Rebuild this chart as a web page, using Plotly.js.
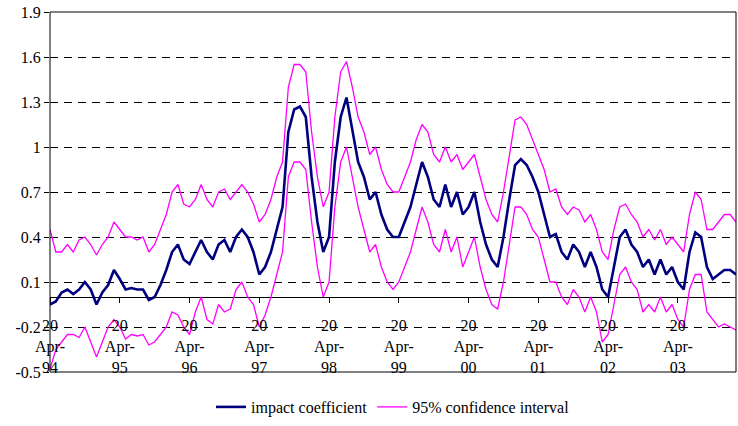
<!DOCTYPE html>
<html>
<head>
<meta charset="utf-8">
<script src="https://cdn.plot.ly/plotly-3.0.1.min.js"></script>
<style>body{margin:0;background:#fff}#chart{width:738px;height:426px}</style>
</head>
<body>
<div id="chart"></div>
<script>
// months since 20-Apr-94
var months = [];
for (var m = 0; m <= 118; m++) months.push(m);

var impact = [-0.05,-0.03,0.03,0.05,0.02,0.05,0.1,0.05,-0.05,0.03,0.08,0.18,
  0.12,0.05,0.06,0.05,0.05,-0.02,0.0,0.08,0.18,0.3,0.35,0.25,
  0.22,0.3,0.38,0.3,0.25,0.35,0.38,0.3,0.4,0.45,0.4,0.3,
  0.15,0.2,0.3,0.45,0.6,1.1,1.25,1.27,1.2,0.8,0.5,0.3,
  0.4,0.9,1.2,1.33,1.1,0.9,0.8,0.65,0.7,0.55,0.45,0.4,
  0.4,0.5,0.6,0.75,0.9,0.8,0.65,0.6,0.75,0.6,0.7,0.55,
  0.6,0.7,0.5,0.35,0.25,0.2,0.4,0.65,0.88,0.92,0.88,0.8,
  0.7,0.55,0.4,0.42,0.3,0.25,0.35,0.3,0.2,0.3,0.2,0.05,
  0.0,0.2,0.4,0.45,0.35,0.3,0.2,0.25,0.15,0.25,0.15,0.2,
  0.1,0.05,0.3,0.43,0.4,0.2,0.12,0.15,0.18,0.18,0.15];
var upper = [0.45,0.3,0.3,0.35,0.3,0.38,0.4,0.35,0.28,0.35,0.4,0.5,
  0.45,0.4,0.4,0.38,0.4,0.3,0.35,0.45,0.55,0.7,0.75,0.62,
  0.6,0.65,0.75,0.65,0.6,0.7,0.72,0.65,0.7,0.75,0.7,0.62,
  0.5,0.55,0.65,0.8,0.9,1.4,1.55,1.55,1.5,1.1,0.8,0.6,
  0.7,1.2,1.5,1.57,1.4,1.2,1.1,0.95,1.0,0.85,0.75,0.7,
  0.7,0.8,0.9,1.05,1.15,1.1,0.95,0.9,1.0,0.9,0.95,0.85,
  0.9,0.95,0.8,0.65,0.55,0.5,0.7,0.95,1.18,1.2,1.15,1.05,
  0.95,0.85,0.7,0.72,0.6,0.55,0.6,0.58,0.5,0.55,0.45,0.3,
  0.25,0.45,0.6,0.62,0.55,0.5,0.4,0.45,0.38,0.45,0.35,0.4,
  0.35,0.3,0.55,0.7,0.65,0.45,0.45,0.5,0.55,0.55,0.5];
var lower = [-0.48,-0.35,-0.3,-0.25,-0.25,-0.27,-0.2,-0.3,-0.4,-0.3,-0.2,-0.15,
  -0.2,-0.28,-0.25,-0.26,-0.25,-0.32,-0.3,-0.25,-0.2,-0.1,-0.12,-0.2,
  -0.25,-0.1,0.0,-0.15,-0.18,-0.05,-0.1,-0.08,0.05,0.1,0.0,-0.05,
  -0.2,-0.12,0.0,0.15,0.3,0.8,0.9,0.9,0.85,0.5,0.2,0.0,
  0.1,0.6,0.9,1.0,0.8,0.6,0.45,0.3,0.35,0.2,0.1,0.05,
  0.1,0.2,0.3,0.45,0.6,0.5,0.35,0.3,0.45,0.3,0.4,0.2,
  0.3,0.4,0.2,0.05,-0.05,-0.08,0.1,0.35,0.6,0.6,0.55,0.45,
  0.4,0.25,0.1,0.1,0.0,-0.05,0.05,0.0,-0.1,0.0,-0.1,-0.3,
  -0.25,-0.05,0.15,0.2,0.1,0.05,-0.1,-0.05,-0.1,0.0,-0.1,-0.05,
  -0.15,-0.2,0.05,0.15,0.15,-0.1,-0.15,-0.2,-0.18,-0.2,-0.22];

var yTicks = [-0.5,-0.2,0.1,0.4,0.7,1,1.3,1.6,1.9];
var yTickText = ['-0.5','-0.2','0.1','0.4','0.7','1','1.3','1.6','1.9'];
var tickPos = [0,12,24,36,48,60,72,84,96,108];
var tickText = ['94','95','96','97','98','99','00','01','02','03'].map(function(y){
  return '20<br>Apr-<br>' + y;
});

var serif = '"Liberation Serif", "Times New Roman", Times, serif';
var magenta = '#ff00ff';
var traces = [
  {x: months, y: impact, name: 'impact coefficient', mode: 'lines',
   line: {color: '#00007f', width: 2.6}},
  {x: months, y: upper, name: '95% confidence interval', mode: 'lines',
   line: {color: magenta, width: 1.3}},
  {x: months, y: lower, name: 'lower', mode: 'lines', showlegend: false,
   line: {color: magenta, width: 1.3}}
];

var layout = {
  width: 738, height: 426,
  margin: {l: 50, r: 2, t: 12, b: 48},
  paper_bgcolor: '#fff', plot_bgcolor: '#fff',
  font: {family: serif, size: 16, color: '#000'},
  showlegend: true,
  legend: {orientation: 'h', x: 0.5, xanchor: 'center', y: -0.05, yanchor: 'top',
           font: {family: serif, size: 16}},
  xaxis: {range: [0, 118], tickvals: tickPos, ticktext: tickText,
          anchor: 'free', position: 0.5 / 2.4,
          ticks: 'outside', ticklen: 5, tickcolor: '#000',
          ticklabelstandoff: 9,
          tickfont: {family: serif, size: 16},
          showgrid: false, showline: false, zeroline: false},
  yaxis: {range: [-0.5, 1.9], tickvals: yTicks, ticktext: yTickText,
          showgrid: true, gridcolor: '#000', griddash: '8px,6px', gridwidth: 1.3,
          zeroline: true, zerolinecolor: '#000', zerolinewidth: 1.3,
          showline: false, ticks: 'outside', ticklen: 5, tickcolor: '#000',
          tickfont: {family: serif, size: 16}},
  shapes: [{type: 'rect', xref: 'paper', yref: 'paper', x0: 0, x1: 1, y0: 0, y1: 1,
            line: {color: '#000', width: 1}}]
};

Plotly.newPlot('chart', traces, layout, {displayModeBar: false});
</script>
</body>
</html>
